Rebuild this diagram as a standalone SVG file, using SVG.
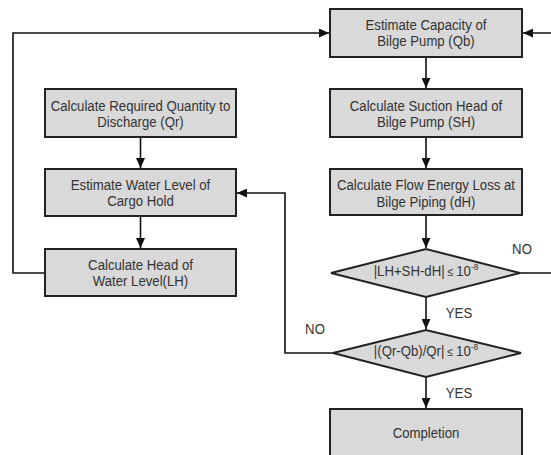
<svg xmlns="http://www.w3.org/2000/svg" width="551" height="455" viewBox="0 0 551 455">
<style>
.box{fill:#d9d9d9;stroke:#222;stroke-width:2}
.t{font-family:"Liberation Sans",Arial,sans-serif;font-size:15px;fill:#333;text-anchor:middle}
.c{fill:none;stroke:#111;stroke-width:1.6}
</style>
<defs>
<marker id="ah" markerWidth="10" markerHeight="9" refX="10" refY="4.5" orient="auto" markerUnits="userSpaceOnUse">
<path d="M0,0 L10,4.5 L0,9 Z" fill="#111"/>
</marker>
</defs>
<rect width="551" height="455" fill="#fff"/>
<g id="connectors">
<path class="c" d="M426 57 V88" marker-end="url(#ah)"/>
<path class="c" d="M426 137 V168" marker-end="url(#ah)"/>
<path class="c" d="M426 215 V248" marker-end="url(#ah)"/>
<path class="c" d="M426 297 V329" marker-end="url(#ah)"/>
<path class="c" d="M426 377 V408" marker-end="url(#ah)"/>
<path class="c" d="M140.5 137 V168" marker-end="url(#ah)"/>
<path class="c" d="M140.5 216 V248" marker-end="url(#ah)"/>
<path class="c" d="M45 273 H13 V33 H329" marker-end="url(#ah)"/>
<path class="c" d="M520 273 H560 V33 H523" marker-end="url(#ah)"/>
<path class="c" d="M333 353 H285 V193 H237" marker-end="url(#ah)"/>
</g>
<g id="qb"><rect class="box" x="330" y="9" width="192" height="48"/><g transform="translate(426,0) scale(0.88,1)"><text class="t" x="0" y="30">Estimate Capacity of</text><text class="t" x="0" y="46">Bilge Pump (Qb)</text></g></g>
<g id="sh"><rect class="box" x="330" y="89" width="192" height="48"/><g transform="translate(426,0) scale(0.88,1)"><text class="t" x="0" y="111">Calculate Suction Head of</text><text class="t" x="0" y="127">Bilge Pump (SH)</text></g></g>
<g id="dh"><rect class="box" x="330" y="169" width="192" height="46"/><g transform="translate(426,0) scale(0.88,1)"><text class="t" x="0" y="190">Calculate Flow Energy Loss at</text><text class="t" x="0" y="207">Bilge Piping (dH)</text></g></g>
<g id="qr"><rect class="box" x="45" y="89" width="191" height="48"/><g transform="translate(140.5,0) scale(0.88,1)"><text class="t" x="0" y="111">Calculate Required Quantity to</text><text class="t" x="0" y="127">Discharge (Qr)</text></g></g>
<g id="wl"><rect class="box" x="45" y="169" width="191" height="47"/><g transform="translate(140.5,0) scale(0.88,1)"><text class="t" x="0" y="190">Estimate Water Level of</text><text class="t" x="0" y="206">Cargo Hold</text></g></g>
<g id="lh"><rect class="box" x="45" y="249" width="191" height="47"/><g transform="translate(140.5,0) scale(0.88,1)"><text class="t" x="0" y="270">Calculate Head of</text><text class="t" x="0" y="286">Water Level(LH)</text></g></g>
<g id="d1"><polygon class="box" points="331,273 426,249 520,273 426,297"/><g transform="translate(426,0) scale(0.88,1)"><text class="t" x="0" y="276">|LH+SH-dH|<tspan font-size="12"> ≤ </tspan>10<tspan font-size="9.5" dy="-6">-8</tspan></text></g></g>
<g id="d2"><polygon class="box" points="333,353 426,330 521,353 426,377"/><g transform="translate(426,0) scale(0.88,1)"><text class="t" x="0" y="356">|(Qr-Qb)/Qr|<tspan font-size="12"> ≤ </tspan>10<tspan font-size="9.5" dy="-6">-8</tspan></text></g></g>
<g id="done"><rect class="box" x="330" y="409" width="192" height="60"/><g transform="translate(426,0) scale(0.88,1)"><text class="t" x="0" y="438">Completion</text></g></g>
<g id="labels">
<g transform="translate(522,0) scale(0.88,1)"><text class="t" x="0" y="254">NO</text></g>
<g transform="translate(459,0) scale(0.88,1)"><text class="t" x="0" y="318">YES</text></g>
<g transform="translate(315,0) scale(0.88,1)"><text class="t" x="0" y="334">NO</text></g>
<g transform="translate(459,0) scale(0.88,1)"><text class="t" x="0" y="398">YES</text></g>
</g>
</svg>
